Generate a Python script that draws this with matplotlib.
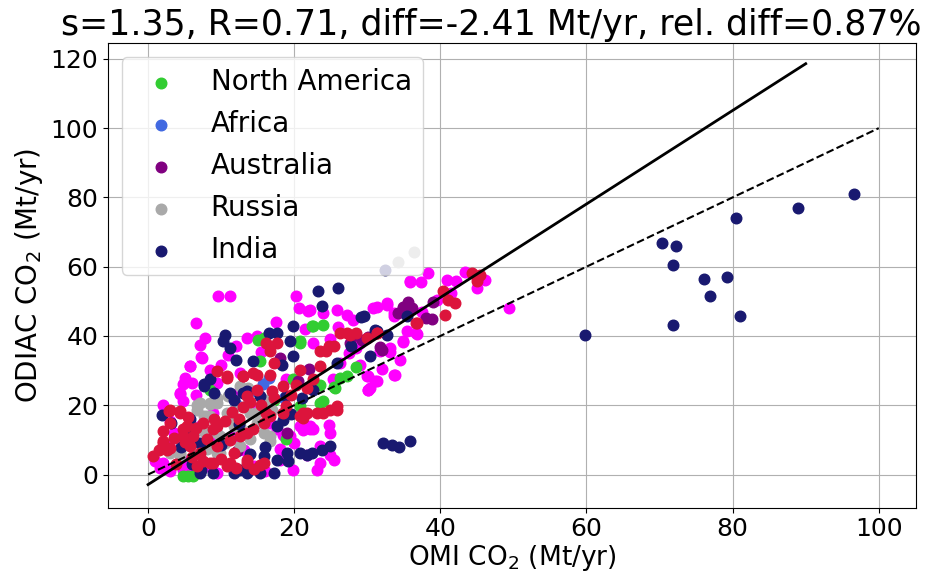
import matplotlib.pyplot as plt

# OMI vs ODIAC CO2 emissions per source (Mt/yr), grouped by region
north_america = [(22.6, 42.8), (24.0, 43.3), (15.8, 39.4), (20.8, 38.5), (23.5, 25.9), (25.4, 25.4),
                 (19.9, 27.7), (15.3, 32.7), (8.5, 24.4), (17.2, 21.6), (20.8, 19.7), (23.5, 20.7),
                 (4.8, -0.3), (6.2, -0.3), (5.5, -0.3), (18.9, 10.2), (27.2, 28.4), (28.5, 31.0),
                 (25.6, 25.0), (26.3, 27.9), (24.0, 21.1), (20.8, 38.0), (15.1, 38.9), (22.4, 42.8)]
africa = [(15.7, 26.0), (14.8, 24.0), (16.5, 28.0), (18.6, 22.0), (12.0, 20.5)]
australia = [(35.6, 49.9), (34.9, 48.5), (34.2, 46.7), (39.0, 49.9), (38.8, 45.0), (36.1, 48.2),
             (31.7, 36.9), (29.3, 38.9), (28.0, 39.9), (27.6, 38.1), (30.1, 39.8), (32.0, 36.0),
             (18.0, 33.5), (19.0, 12.0), (12.2, 6.8), (38.0, 45.1), (22.0, 30.5), (20.5, 27.0)]
russia = [(12.6, 25.5), (13.7, 25.0), (10.9, 22.6), (9.4, 20.7), (8.5, 20.7), (7.1, 20.7), (6.7, 18.7),
          (7.6, 16.8), (10.8, 17.8), (12.1, 19.7), (14.0, 17.8), (14.9, 14.9), (15.8, 12.0), (16.7, 9.6),
          (11.7, 14.0), (9.4, 12.0), (9.9, 6.2), (4.4, 5.7), (3.0, 6.2), (6.2, 8.2), (12.6, 8.2),
          (14.0, 10.2), (8.5, 16.8), (5.7, 14.9), (16.2, 21.6), (6.7, 20.2), (8.5, 20.5), (9.4, 22.2),
          (13.0, 24.5), (8.0, 16.8), (9.8, 11.0), (9.4, 6.3), (12.6, 13.9), (16.7, 11.0), (4.4, 6.3),
          (7.5, 12.5), (10.5, 9.0), (11.0, 16.0), (13.5, 20.0), (5.5, 10.0), (15.0, 18.0), (17.0, 18.5),
          (8.0, 7.5), (34.2, 61.4), (36.4, 64.3)]
india = [(59.8, 40.4), (70.3, 66.9), (72.2, 66.0), (71.8, 60.6), (76.1, 56.5), (79.2, 57.1), (76.9, 51.6),
         (81.0, 45.9), (71.8, 43.3), (80.4, 74.1), (88.9, 77.0), (96.6, 81.0),
         (32.1, 9.2), (33.4, 8.6), (34.3, 7.8), (35.8, 9.8), (32.4, 59.1),
         (23.3, 52.9), (26.0, 53.8), (23.8, 48.6), (29.6, 45.7), (10.5, 40.4), (10.3, 38.5), (11.2, 36.6),
         (12.1, 33.2), (14.4, 32.7), (19.9, 42.8), (19.4, 38.5), (19.9, 34.1), (18.3, 31.7), (7.6, 25.5),
         (8.5, 27.5), (13.0, 23.5), (11.7, 21.6), (15.3, 22.6), (18.9, 22.6), (1.9, 17.3), (3.2, 14.9),
         (5.7, 12.0), (7.1, 9.1), (22.6, 24.4), (17.6, 14.0), (18.5, 15.8), (7.1, 0.5), (8.9, 0.5),
         (11.7, 0.5), (13.5, 0.5), (15.3, 0.5), (17.2, 0.5), (15.8, 5.3), (17.6, 4.3), (19.2, 3.8),
         (20.8, 6.2), (21.7, 5.7), (23.8, 7.2), (24.9, 8.2), (30.4, 34.1), (31.3, 41.3), (35.4, 45.7),
         (29.2, 45.5), (31.0, 41.8), (32.7, 40.4), (27.8, 37.0), (25.8, 32.2), (7.6, 26.0), (11.2, 23.6),
         (13.5, 24.0), (7.3, 1.4), (12.6, 1.4), (19.0, 6.3), (22.4, 6.3), (5.7, 15.9), (16.5, 40.8),
         (17.6, 40.8), (4.5, 8.0), (6.0, 3.0), (10.0, 8.5), (12.5, 14.5), (14.0, 6.0), (16.0, 8.0),
         (19.5, 17.5), (21.0, 22.0), (9.0, 23.5)]
# regions drawn without a legend entry
other_magenta = [(9.6, 51.4), (11.2, 51.6), (6.5, 43.7), (20.3, 51.4), (20.6, 48.1), (21.9, 47.1),
                 (25.8, 47.6), (27.2, 46.1), (30.8, 48.1), (32.7, 49.0), (35.8, 55.5), (37.4, 55.5),
                 (7.1, 37.5), (7.8, 39.4), (7.4, 33.7), (5.8, 31.2), (13.5, 39.4), (14.9, 39.9), (11.0, 34.6),
                 (8.5, 30.3), (6.0, 26.4), (4.4, 23.1), (4.8, 21.1), (3.5, 12.0), (2.8, 8.2), (1.7, 1.9),
                 (20.8, 13.9), (22.1, 13.0), (24.8, 14.4), (23.5, 8.2), (21.7, 5.7), (25.4, 4.2), (23.1, 1.3),
                 (19.9, 1.3), (18.1, 4.2), (33.6, 28.8), (29.9, 28.4), (31.0, 26.9), (30.4, 25.0), (34.9, 38.5),
                 (36.7, 40.9), (33.6, 45.7), (28.1, 44.7), (28.5, 36.5), (33.1, 35.5), (24.9, 39.0), (22.6, 38.0),
                 (25.3, 27.7), (26.3, 32.1), (18.9, 27.7), (9.4, 26.4), (12.6, 24.4), (14.5, 18.7), (8.9, 17.8),
                 (7.1, 14.0), (8.5, 11.1), (11.7, 11.1), (13.1, 7.2), (4.4, 11.1), (4.8, 4.3), (8.0, 2.4),
                 (14.5, 2.4), (16.7, 14.9), (12.6, 29.2), (38.3, 58.2), (35.8, 55.8), (40.9, 56.2), (42.2, 55.8),
                 (43.4, 58.6), (45.0, 53.8), (46.1, 56.2), (49.4, 48.1), (32.7, 49.5), (31.3, 48.5), (33.6, 46.6),
                 (35.4, 41.3), (36.8, 40.7), (34.9, 38.4), (33.1, 36.5), (31.7, 35.6), (30.1, 28.4), (30.1, 24.5),
                 (31.3, 26.9), (22.2, 47.6), (24.0, 46.6), (29.0, 38.0), (24.9, 12.0), (22.6, 13.0), (18.5, 11.5),
                 (2.1, 3.4), (4.8, 1.4), (4.4, 23.6), (4.8, 26.0), (17.6, 13.0), (19.4, 11.0), (22.2, 13.9),
                 (23.5, 3.3), (24.9, 5.7), (21.2, 12.9), (30.1, 24.4), (33.8, 28.7), (7.2, 33.9), (5.7, 31.4),
                 (1.0, 4.0), (3.0, 1.0), (6.0, 0.5), (9.5, 0.5), (16.0, 1.0), (18.0, 7.5), (20.0, 9.0),
                 (3.0, 15.5), (2.0, 20.0), (5.0, 28.0), (6.5, 23.0), (10.0, 31.5), (12.0, 37.0), (15.5, 35.5),
                 (17.5, 44.0), (21.5, 42.0), (26.0, 42.5), (27.5, 35.0), (29.0, 31.5), (32.0, 30.5),
                 (34.5, 33.0), (37.5, 47.0), (39.5, 50.5), (41.5, 52.5)]
other_crimson = [(9.4, 29.8), (10.8, 27.9), (13.0, 28.4), (14.4, 29.2), (16.7, 28.8), (17.2, 32.2),
                 (16.2, 37.9), (17.6, 37.9), (16.7, 35.6), (20.8, 30.3), (22.6, 27.7), (24.4, 35.6),
                 (25.4, 37.0), (27.2, 40.8), (28.5, 40.8), (29.9, 39.4), (31.3, 40.8), (36.7, 43.7), (23.5, 31.3),
                 (3.0, 18.7), (4.4, 17.8), (3.0, 14.9), (5.3, 13.9), (4.8, 11.1), (2.6, 7.2), (0.7, 5.2),
                 (2.1, 9.1), (5.8, 8.2), (7.1, 6.2), (9.4, 8.2), (11.7, 6.2), (13.5, 4.3), (15.3, 2.8),
                 (8.5, 3.3), (6.7, 2.4), (10.8, 2.4), (12.6, 11.1), (14.4, 13.0), (15.8, 14.9), (9.4, 14.0),
                 (8.0, 10.2), (13.5, 22.6), (14.9, 24.4), (17.2, 22.1), (16.2, 17.8), (18.9, 19.7), (21.7, 17.8),
                 (23.1, 17.8), (24.9, 18.7), (25.8, 19.7), (20.8, 16.8), (20.3, 25.9), (21.7, 24.9),
                 (44.3, 58.2), (45.4, 57.7), (45.0, 55.8), (40.4, 52.9), (41.1, 50.5), (42.0, 49.5), (40.6, 46.1),
                 (36.8, 43.6), (31.3, 40.9), (27.6, 40.4), (26.3, 40.9), (24.7, 37.0), (23.5, 35.6), (25.8, 18.7),
                 (24.0, 17.8), (21.2, 16.4), (2.1, 9.6), (3.0, 7.7), (2.8, 18.3), (4.4, 18.3), (4.8, 13.0),
                 (6.2, 11.0), (8.9, 13.0), (11.2, 10.1), (13.5, 12.0), (16.7, 16.8), (18.5, 17.8), (21.2, 17.8),
                 (8.9, 3.4), (11.2, 3.4), (13.5, 3.4), (15.8, 3.4), (13.0, 28.4), (14.9, 28.8), (10.8, 28.4),
                 (1.5, 7.0), (3.5, 10.5), (5.0, 9.5), (6.5, 13.5), (7.5, 15.0), (9.0, 16.0), (10.5, 15.5),
                 (11.5, 18.0), (12.5, 16.0), (13.0, 19.5), (14.0, 21.0), (15.5, 20.0), (17.0, 24.0),
                 (18.5, 25.5), (19.5, 23.0), (6.0, 5.0), (7.5, 4.0), (10.0, 4.5), (12.0, 2.0), (14.5, 1.5),
                 (3.8, 3.0), (5.5, 16.5), (2.0, 12.5)]

fit_slope = 1.35
fit_intercept = -2.9
fit_x = [0, 90]
one_to_one = [0, 100]

groups = [
    (north_america, 'limegreen', 'North America'),
    (africa, 'royalblue', 'Africa'),
    (australia, 'purple', 'Australia'),
    (russia, 'darkgray', 'Russia'),
    (india, 'midnightblue', 'India'),
]

fig = plt.figure(figsize=(9.3, 5.77), dpi=100)
ax = fig.add_axes([0.116, 0.12, 0.869, 0.805])

xs, ys = zip(*other_magenta)
ax.scatter(xs, ys, s=58, color='magenta', zorder=2)
for pts, col, lab in groups:
    xs, ys = zip(*pts)
    ax.scatter(xs, ys, s=58, color=col, label=lab, zorder=2)
xs, ys = zip(*other_crimson)
ax.scatter(xs, ys, s=58, color='crimson', zorder=2)

ax.plot(fit_x, [fit_slope * v + fit_intercept for v in fit_x], color='black', lw=2, zorder=3)
ax.plot(one_to_one, one_to_one, color='black', lw=1.5, ls='--', zorder=3)

ax.set_xlim(-5.5, 105.1)
ax.set_ylim(-9.6, 124.5)
ax.grid(True, zorder=0)
ax.set_axisbelow(True)
ax.tick_params(labelsize=18)

ax.set_title('s=1.35, R=0.71, diff=-2.41 Mt/yr, rel. diff=0.87%', fontsize=25, x=0.474)
ax.set_xlabel('OMI CO$_2$ (Mt/yr)', fontsize=19, labelpad=1)
ax.set_ylabel('ODIAC CO$_2$ (Mt/yr)', fontsize=20)
ax.legend(loc='upper left', fontsize=20)

fig.savefig('out.png', dpi=100)
